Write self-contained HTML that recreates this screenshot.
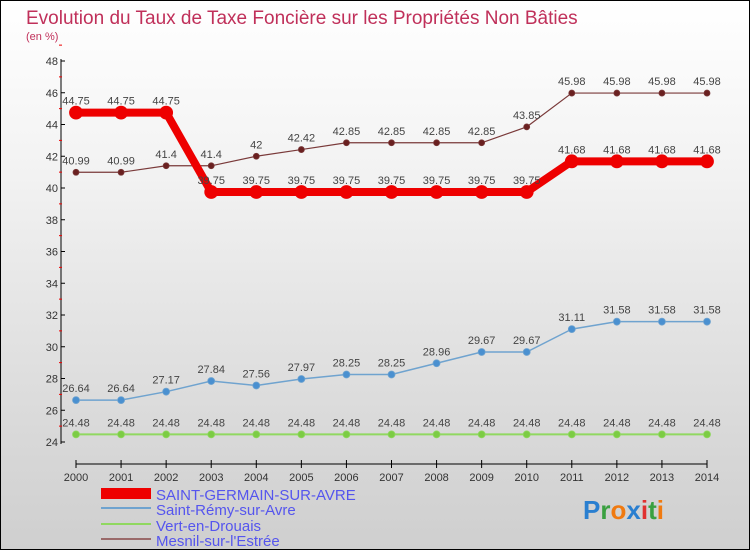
<!DOCTYPE html>
<html><head><meta charset="utf-8"><style>
body{margin:0}
#c{width:750px;height:550px;position:relative;box-sizing:border-box;border:1px solid #000;background:linear-gradient(#fff,#f3f3f3 30%,#d8d8d8 80%,#cfcfcf);font-family:"Liberation Sans",sans-serif;overflow:hidden}
</style></head><body>
<div id="c">
<svg id="s" width="750" height="550" style="position:absolute;left:0;top:0">
<text x="25" y="23" font-size="19" fill="#c0305a">Evolution du Taux de Taxe Foncière sur les Propriétés Non Bâties</text>
<text x="25" y="39" font-size="11" fill="#c0305a">(en %)</text>
<g id="g"></g>
<g>
<rect x="100" y="487" width="50" height="11" fill="#e00"/>
<text x="155" y="499" font-size="15" fill="#5555ee">SAINT-GERMAIN-SUR-AVRE</text>
<rect x="100" y="506" width="50" height="2" fill="#6fa3cf"/>
<text x="155" y="514" font-size="15" fill="#5555ee">Saint-Rémy-sur-Avre</text>
<rect x="100" y="522" width="50" height="2" fill="#90d860"/>
<text x="155" y="530" font-size="15" fill="#5555ee">Vert-en-Drouais</text>
<rect x="100" y="537" width="50" height="2" fill="#9a6a6a"/>
<text x="155" y="545" font-size="15" fill="#5555ee">Mesnil-sur-l'Estrée</text>
</g>
<text x="582" y="518" font-size="26" font-weight="bold"><tspan fill="#2a7fd0">P</tspan><tspan fill="#3aa040">r</tspan><tspan fill="#f07a10">o</tspan><tspan fill="#2a7fd0">x</tspan><tspan fill="#e03030">i</tspan><tspan fill="#3aa040">t</tspan><tspan fill="#f07a10">i</tspan></text>
</svg>
</div>
<script>
const years=[2000,2001,2002,2003,2004,2005,2006,2007,2008,2009,2010,2011,2012,2013,2014];
const yTicks=[24,26,28,30,32,34,36,38,40,42,44,46,48];
const stGermain=[44.75,44.75,44.75,39.75,39.75,39.75,39.75,39.75,39.75,39.75,39.75,41.68,41.68,41.68,41.68];
const stRemy=[26.64,26.64,27.17,27.84,27.56,27.97,28.25,28.25,28.96,29.67,29.67,31.11,31.58,31.58,31.58];
const vert=[24.48,24.48,24.48,24.48,24.48,24.48,24.48,24.48,24.48,24.48,24.48,24.48,24.48,24.48,24.48];
const mesnil=[40.99,40.99,41.4,41.4,42,42.42,42.85,42.85,42.85,42.85,43.85,45.98,45.98,45.98,45.98];
const NS="http://www.w3.org/2000/svg",g=document.getElementById('g');
const X=i=>75+i*(706-75)/(years.length-1);
const Y=v=>441-(v-24)*(441-60)/24;
function mk(t,a){const e=document.createElementNS(NS,t);for(const k in a)e.setAttribute(k,a[k]);g.appendChild(e);return e;}
let e=mk('line',{x1:60,y1:58,x2:60,y2:443,stroke:'#000'});


e=mk('line',{x1:75,y1:463,x2:706,y2:463,stroke:'#000'});


yTicks.forEach(v=>{
 let t=mk('line',{x1:60,x2:64,y1:Y(v),y2:Y(v),stroke:'#000'});
 
 
 let m=mk('line',{x1:58,x2:61,y1:Y(v+1),y2:Y(v+1),stroke:'#e00'});
 
 
 t=mk('text',{x:57,y:Y(v)+4,'font-size':11,'text-anchor':'end',fill:'#333'});t.textContent=v;
 
 
});
years.forEach((y,i)=>{
 let t=mk('line',{x1:X(i),x2:X(i),y1:459,y2:467,stroke:'#000'});
 
 
 t=mk('text',{x:X(i),y:480,'font-size':11,'text-anchor':'middle',fill:'#333'});t.textContent=y;
 
 
});
function series(d,col,w,r,dot,name){
 const p=mk('polyline',{points:d.map((v,i)=>X(i)+','+Y(v)).join(' '),fill:'none',stroke:col,'stroke-width':w,'stroke-linejoin':'round'});
 
 
 d.forEach((v,i)=>{
  const c=mk('circle',{cx:X(i),cy:Y(v),r:r,fill:dot,stroke:col,'stroke-width':0.8});
  
  
  const t=mk('text',{x:X(i),y:Y(v)-8,'font-size':11,'text-anchor':'middle',fill:'#444'});t.textContent=v;
  
  
 });
}
series(vert,'#90d860',2,3.5,'#7ccc44','vert-en-drouais');
series(stRemy,'#6fa3cf',1.5,3.5,'#4a90d0','saint-remy');
series(mesnil,'#7a3a3a',1.2,3,'#6a2020','mesnil');
series(stGermain,'#e00',8,6.5,'#e00','saint-germain');
</script>
</body></html>
